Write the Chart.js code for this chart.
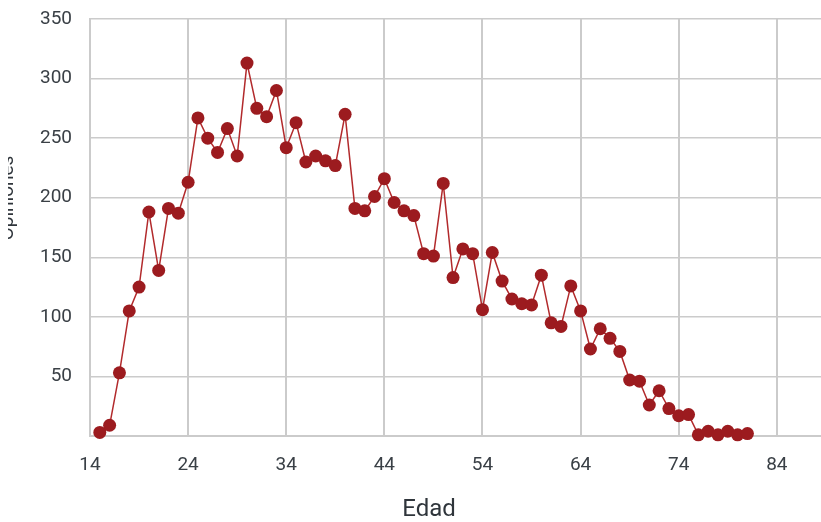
<!DOCTYPE html>
<html>
<head>
<meta charset="utf-8">
<script src="https://cdn.jsdelivr.net/npm/chart.js@4/dist/chart.umd.min.js"></script>
<style>
  html, body { margin: 0; padding: 0; background: #fff; overflow: hidden; }
  #wrap { position: relative; width: 821px; height: 522px; }
  #myChart { position: absolute; left: 0; top: 0; }
  .axisTitle { position: absolute; font-family: Roboto, sans-serif; color: #2f353b; text-align: center; white-space: nowrap; }
  #xTitle { left: 379px; top: 496px; width: 100px; font-size: 24px; line-height: 24px; }
  #yClip { position: absolute; left: 8px; top: 150px; width: 20px; height: 110px; overflow: hidden; }
  #yTitle { left: -61.5px; top: 38px; width: 120px; font-size: 19px; line-height: 20px; transform: rotate(-90deg); }
</style>
</head>
<body>
<div id="wrap">
  <canvas id="myChart" width="821" height="522"></canvas>
  <div id="yClip"><div id="yTitle" class="axisTitle">Opiniones</div></div>
  <div id="xTitle" class="axisTitle">Edad</div>
</div>
<script>
// edad (years) and number of opinions
const edades = [15, 16, 17, 18, 19, 20, 21, 22, 23, 24,
    25, 26, 27, 28, 29, 30, 31, 32, 33, 34,
    35, 36, 37, 38, 39, 40, 41, 42, 43, 44,
    45, 46, 47, 48, 49, 50, 51, 52, 53, 54,
    55, 56, 57, 58, 59, 60, 61, 62, 63, 64,
    65, 66, 67, 68, 69, 70, 71, 72, 73, 74,
    75, 76, 77, 78, 79, 80, 81]
const opiniones = [3, 9, 53, 105, 125, 188, 139, 191, 187, 213,
    267, 250, 238, 258, 235, 313, 275, 268, 290, 242,
    263, 230, 235, 231, 227, 270, 191, 189, 201, 216,
    196, 189, 185, 153, 151, 212, 133, 157, 153, 106,
    154, 130, 115, 111, 110, 135, 95, 92, 126, 105,
    73, 90, 82, 71, 47, 46, 26, 38, 23, 17,
    18, 1, 4, 1, 4, 1, 2]
const xTicks = [14, 24, 34, 44, 54, 64, 74, 84]
const yTicks = [0, 50, 100, 150, 200, 250, 300, 350]

const gridColor = '#cbcbcb'
const tickFont = { family: 'Roboto', size: 19 }
const tickColor = '#3a4046'

let points = edades.map((e, i) => ({ x: e, y: opiniones[i] }))

let ctx = document.getElementById('myChart').getContext('2d')
let opinionChart = new Chart(ctx, {
    type: 'line',
    data: {
        datasets: [{
            label: 'Opiniones',
            data: points,
            borderColor: '#b22a2c',
            borderWidth: 1.5,
            pointRadius: 6.5,
            pointHoverRadius: 6.5,
            pointBackgroundColor: '#9c1b1f',
            pointBorderColor: '#9c1b1f',
            pointBorderWidth: 0,
            tension: 0,
            clip: false
        }]
    },
    options: {
        responsive: false,
        animation: false,
        devicePixelRatio: 1,
        layout: { autoPadding: false, padding: { top: 19, right: 0, bottom: 0, left: 0 } },
        plugins: {
            legend: { display: false },
            tooltip: { enabled: false }
        },
        scales: {
            x: {
                type: 'linear',
                min: 14,
                max: 88.5,
                afterBuildTicks: (scale) => { scale.ticks = xTicks.map(v => ({ value: v })) },
                afterFit: (scale) => {
                    scale.height = 86
                    scale.paddingLeft = 0
                    scale.paddingRight = 0
                },
                grid: { color: gridColor, lineWidth: 2, drawTicks: false },
                border: { color: gridColor, width: 2 },
                ticks: { font: tickFont, color: tickColor, padding: 18, maxRotation: 0 }
            },
            y: {
                min: 0,
                max: 350,
                afterBuildTicks: (scale) => { scale.ticks = yTicks.map(v => ({ value: v })) },
                afterFit: (scale) => {
                    scale.width = 90
                    scale.paddingTop = 0
                    scale.paddingBottom = 0
                },
                grid: { color: gridColor, lineWidth: 1.5, drawTicks: false },
                border: { color: gridColor, width: 2 },
                ticks: {
                    font: tickFont,
                    color: tickColor,
                    padding: 18,
                    callback: (v) => v === 0 ? '' : v
                }
            }
        }
    }
})
</script>
</body>
</html>
